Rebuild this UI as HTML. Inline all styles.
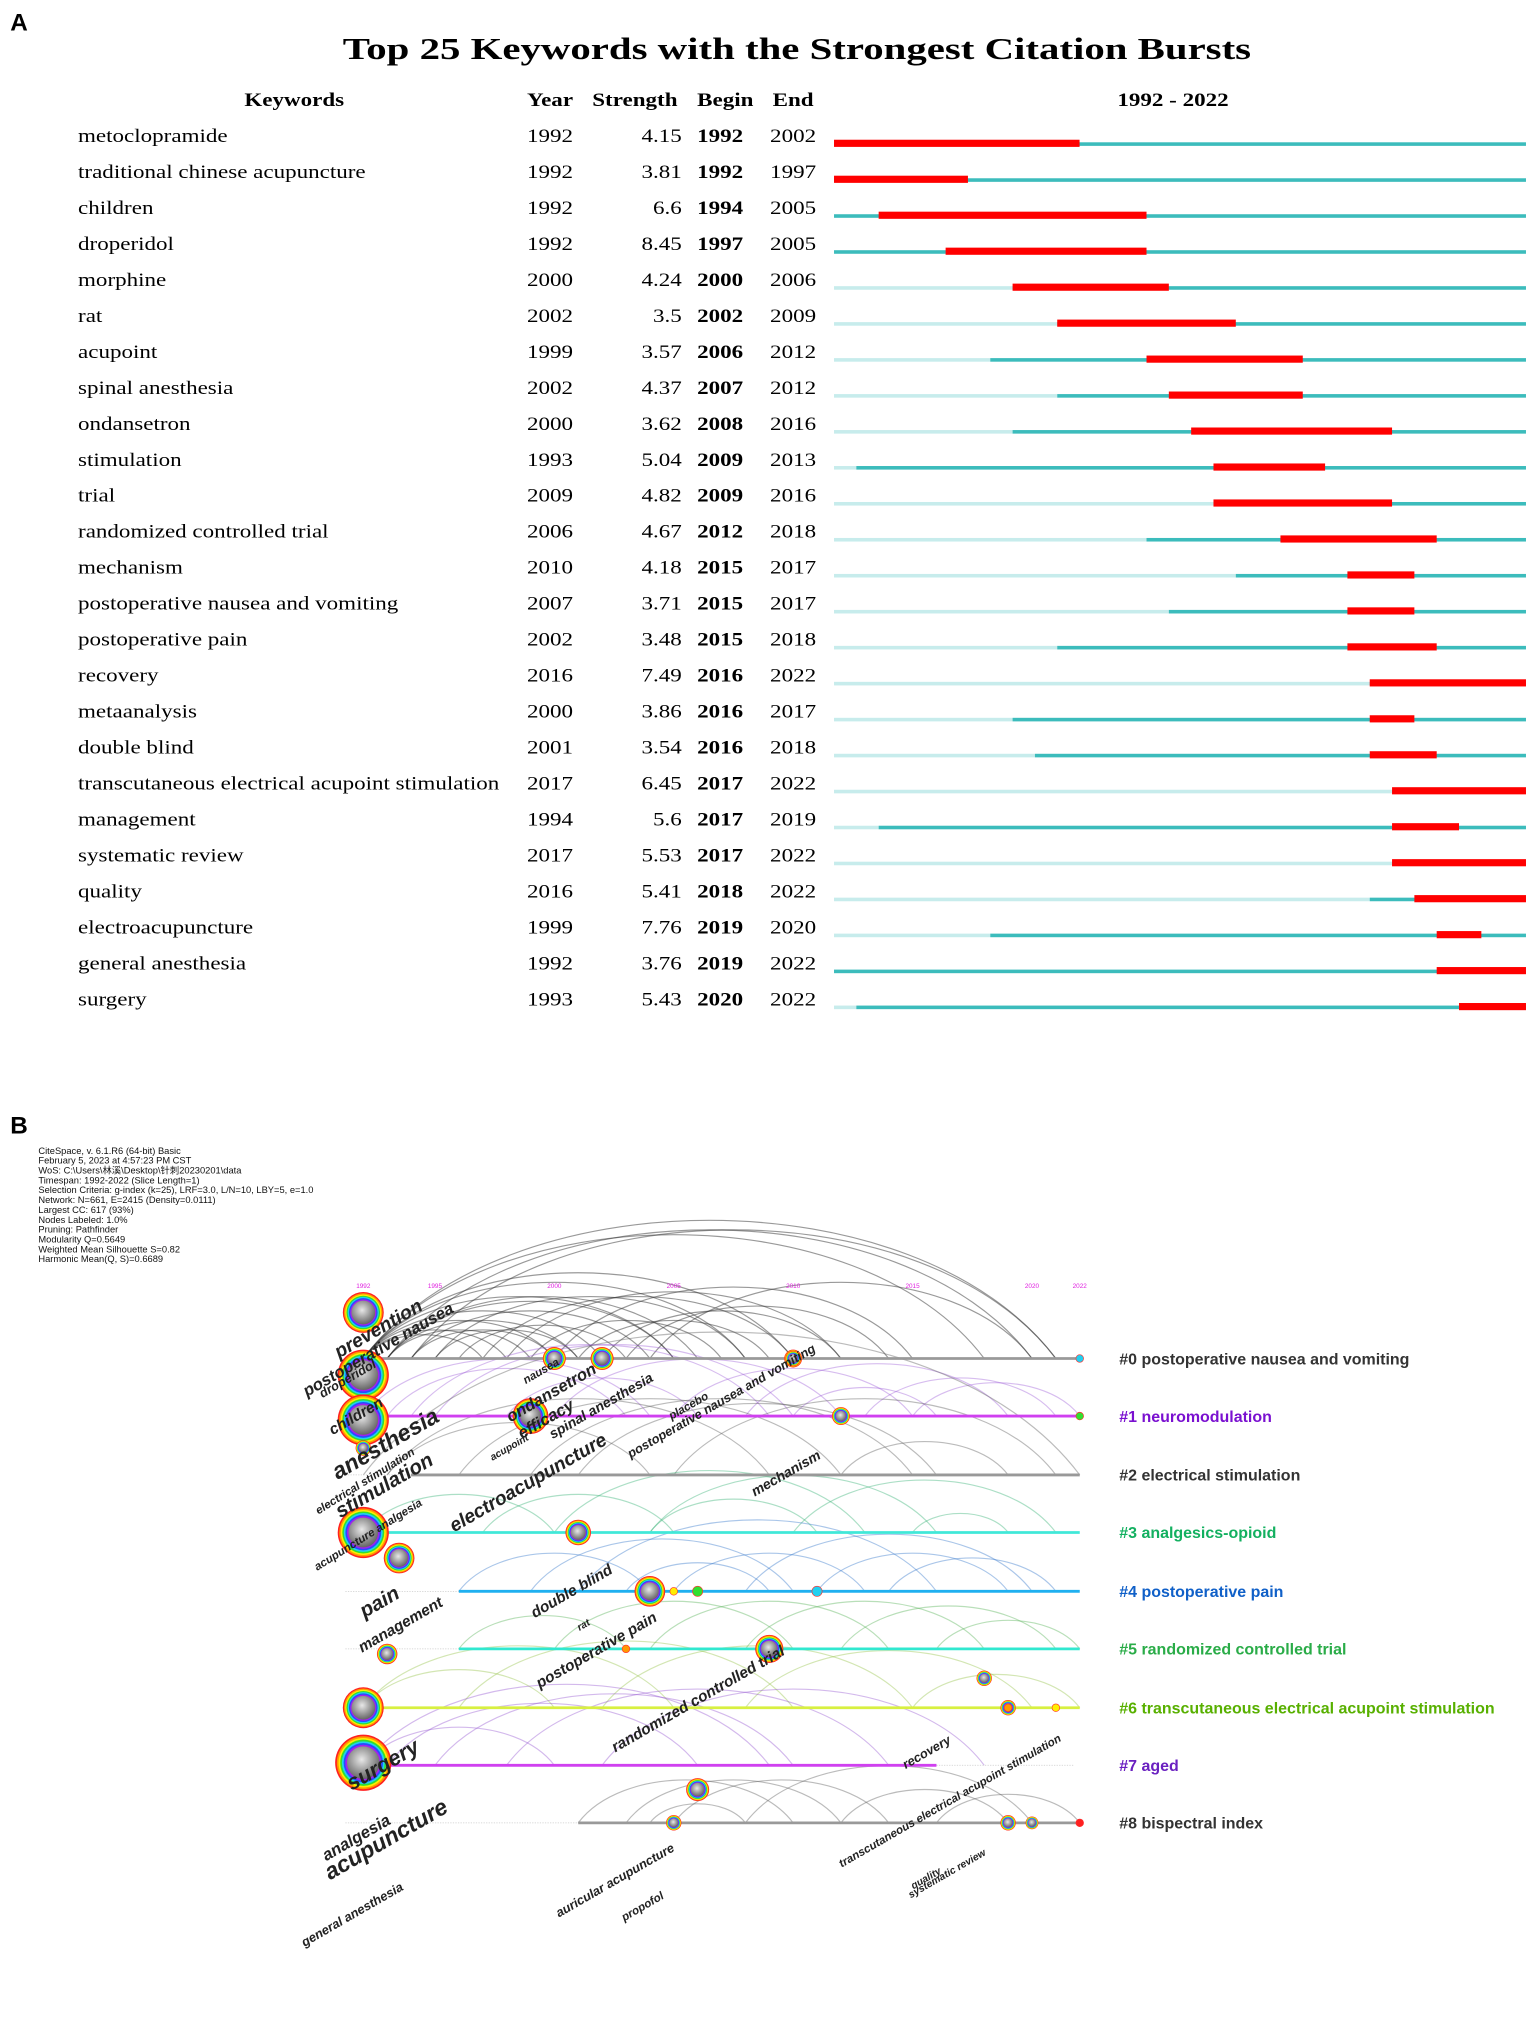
<!DOCTYPE html>
<html><head><meta charset="utf-8">
<style>
html,body{margin:0;padding:0;background:#fff;}
svg{display:block;}
.serif{font-family:"Liberation Serif","DejaVu Serif",serif;}
.sans{font-family:"Liberation Sans","Noto Sans CJK SC",sans-serif;}
</style></head>
<body>
<svg id="root" width="1535" height="2019" viewBox="0 0 1200 1578.3" xmlns="http://www.w3.org/2000/svg">
<text x="8" y="24" class="sans" font-size="19" font-weight="bold">A</text>
<g transform="translate(623,46) scale(1.33,1)"><text x="0" y="0" class="serif" font-size="24" font-weight="bold" text-anchor="middle">Top 25 Keywords with the Strongest Citation Bursts</text></g>
<g class="serif" font-size="15" font-weight="bold">
<g transform="translate(230,83) scale(1.2,1)"><text x="0" y="0" text-anchor="middle">Keywords</text></g>
<g transform="translate(412,83) scale(1.2,1)"><text x="0" y="0">Year</text></g>
<g transform="translate(463,83) scale(1.2,1)"><text x="0" y="0">Strength</text></g>
<g transform="translate(545,83) scale(1.2,1)"><text x="0" y="0">Begin</text></g>
<g transform="translate(604,83) scale(1.2,1)"><text x="0" y="0">End</text></g>
<g transform="translate(917,83) scale(1.2,1)"><text x="0" y="0" text-anchor="middle">1992 - 2022</text></g>
</g>
<g id="burstRows"></g>

<text x="8" y="886" class="sans" font-size="19" font-weight="bold">B</text>
<g class="sans" font-size="7.3" fill="#111">
<text x="30" y="902">CiteSpace, v. 6.1.R6 (64-bit) Basic</text>
<text x="30" y="909.7">February 5, 2023 at 4:57:23 PM CST</text>
<text x="30" y="917.4">WoS: C:\Users\林溪\Desktop\针刺20230201\data</text>
<text x="30" y="925.1">Timespan: 1992-2022 (Slice Length=1)</text>
<text x="30" y="932.8">Selection Criteria: g-index (k=25), LRF=3.0, L/N=10, LBY=5, e=1.0</text>
<text x="30" y="940.5">Network: N=661, E=2415 (Density=0.0111)</text>
<text x="30" y="948.2">Largest CC: 617 (93%)</text>
<text x="30" y="955.9">Nodes Labeled: 1.0%</text>
<text x="30" y="963.6">Pruning: Pathfinder</text>
<text x="30" y="971.3">Modularity Q=0.5649</text>
<text x="30" y="979">Weighted Mean Silhouette S=0.82</text>
<text x="30" y="986.7">Harmonic Mean(Q, S)=0.6689</text>
</g>
<defs>
<radialGradient id="core" cx="45%" cy="40%" r="60%"><stop offset="0" stop-color="#e8e8e8"/><stop offset="0.6" stop-color="#999"/><stop offset="1" stop-color="#666"/></radialGradient>
</defs>
<g id="arcs"></g>
<g id="lines"></g>
<g id="nodes"></g>
<g id="yearTicks" class="sans" font-size="5" fill="#e020e0"></g>
<g id="clusterLabels" class="sans" font-size="12.5" font-weight="bold"></g>
<g id="nodeLabels" class="sans" font-weight="bold" font-style="italic" fill="#222"></g>
</svg>
<script>
const NS="http://www.w3.org/2000/svg";
const keywords=["metoclopramide","traditional chinese acupuncture","children","droperidol","morphine","rat","acupoint","spinal anesthesia","ondansetron","stimulation","trial","randomized controlled trial","mechanism","postoperative nausea and vomiting","postoperative pain","recovery","metaanalysis","double blind","transcutaneous electrical acupoint stimulation","management","systematic review","quality","electroacupuncture","general anesthesia","surgery"];
const years=[1992,1992,1992,1992,2000,2002,1999,2002,2000,1993,2009,2006,2010,2007,2002,2016,2000,2001,2017,1994,2017,2016,1999,1992,1993];
const strengths=["4.15","3.81","6.6","8.45","4.24","3.5","3.57","4.37","3.62","5.04","4.82","4.67","4.18","3.71","3.48","7.49","3.86","3.54","6.45","5.6","5.53","5.41","7.76","3.76","5.43"];
const begins=[1992,1992,1994,1997,2000,2002,2006,2007,2008,2009,2009,2012,2015,2015,2015,2016,2016,2016,2017,2017,2017,2018,2019,2019,2020];
const ends=[2002,1997,2005,2005,2006,2009,2012,2012,2016,2013,2016,2018,2017,2017,2018,2022,2017,2018,2022,2019,2022,2022,2020,2022,2022];

function mk(tag,attrs,parent,txt){const e=document.createElementNS(NS,tag);for(const k in attrs)e.setAttribute(k,attrs[k]);if(txt!==undefined)e.textContent=txt;parent.appendChild(e);return e;}
function stext(parent,x,y,s,sx,extra){const g=mk('g',{transform:`translate(${x},${y}) scale(${sx},1)`},parent);const t=mk('text',Object.assign({x:0,y:0},extra||{}),g,s);return t;}
const bx0=652,bw=17.45,y0=106,dy=28.12;
const bX=y=>bx0+(y-1992)*bw;
const rows=document.getElementById('burstRows');
keywords.forEach((k,i)=>{
  const y=y0+i*dy;
  const g=mk('g',{class:'serif','font-size':'15'},rows);
  
  
  let t=stext(g,61,y+5,k,1.2);
  t=stext(g,412,y+5,years[i],1.2);
  t=stext(g,533,y+5,strengths[i],1.2,{'text-anchor':'end'});
  t=stext(g,545,y+5,begins[i],1.2,{'font-weight':'bold'});
  t=stext(g,602,y+5,ends[i],1.2);
  const by=y+5;
  let r=mk('rect',{x:bx0,y:by+0.2,width:bX(years[i])-bx0,height:2.8,fill:'#c7ecec'},g);
  r=mk('rect',{x:bX(years[i]),y:by+0.2,width:bX(2023)-bX(years[i]),height:2.8,fill:'#3cbcbc'},g);
  r=mk('rect',{x:bX(begins[i]),y:by-1.8,width:bX(ends[i]+1)-bX(begins[i]),height:5.6,fill:'#ff0000'},g);
});

// Part B timeline
const tx=y=>284+(y-1992)*18.67;
const clusterNames=["#0 postoperative nausea and vomiting","#1 neuromodulation","#2 electrical stimulation","#3 analgesics-opioid","#4 postoperative pain","#5 randomized controlled trial","#6 transcutaneous electrical acupoint stimulation","#7 aged","#8 bispectral index"];
const clusterY=[1062,1107,1153,1198,1244,1289,1335,1380,1425];
const clusterStart=[1992,1992,1994,1992,1996,1996,1992,1992,2001];
const clusterEnd=[2022,2022,2022,2022,2022,2022,2022,2016,2022];
const labelColors=["#333","#7a10d0","#333","#13b060","#1060c8","#2aac48","#58b000","#6a20c0","#333"];
const lineColors=["#999","#d040f0","#999","#40e8d8","#20b0f0","#30e8d0","#d8f040","#d040f0","#999"];
const arcColors=["#333","#9a5ad8","#555","#30b070","#2a70c8","#50b050","#90c040","#9050d0","#555"];
const yearLabels=[1992,1995,2000,2005,2010,2015,2020,2022];

const arcCluster=[0,0,0,0,0,0,0,0,0,0,0,0,0,0,0,0,0,0,0,0,0,0,0,0,0,0,0,0,1,1,1,1,1,1,1,1,1,1,1,2,2,2,2,2,2,2,2,3,3,3,3,3,3,3,4,4,4,4,4,4,4,4,5,5,5,5,5,5,6,6,6,6,6,6,7,7,7,7,7,7,8,8,8,8,8,8,8];
const arcFrom=[1992,1992,1992,1993,1993,1992,1994,1995,1996,1998,1992,1993,1997,1999,2000,2002,1994,2004,2003,1992,1992,1992,1993,1993,1994,1992,1995,2001,1993,1995,2000,2005,2008,2010,2013,2015,1998,1992,1994,1992,1993,1996,2001,2005,2012,1999,1993,1992,1997,2000,2004,2010,2015,2004,1996,1999,2001,2005,2008,2011,2014,2003,1996,2000,2004,2008,2012,2016,1992,1996,2002,2008,2015,1992,1992,1993,1995,1998,2002,1992,2001,2003,2005,2008,2012,2016,2004];
const arcTo=[2021,2018,2010,2020,2005,2000,2004,2008,2003,2012,1998,2001,2010,2007,2015,2012,2021,2020,2014,2008,1997,2002,1999,2006,2000,2005,2001,2009,2003,2010,2012,2015,2019,2016,2021,2022,2006,2004,2009,2022,2009,2012,2016,2021,2019,2015,2004,2000,2005,2013,2016,2021,2019,2011,2004,2010,2016,2013,2020,2019,2021,2009,2003,2010,2014,2018,2021,2022,2000,2010,2015,2020,2022,2005,2000,2006,2010,2014,2018,2009,2010,2012,2014,2020,2019,2022,2008];
const arcsG=document.getElementById('arcs');
arcCluster.forEach((c,i)=>{
  const x1=tx(arcFrom[i]),x2=tx(arcTo[i]),y=clusterY[c];
  const h=(x2-x1)*0.2;
  const p=mk('path',{d:`M${x1},${y} C${x1+(x2-x1)*0.2},${y-h*1.33} ${x2-(x2-x1)*0.2},${y-h*1.33} ${x2},${y}`,fill:'none',stroke:arcColors[c],'stroke-width':0.9,'stroke-opacity':c===0?0.5:0.4},arcsG);
  
  
});
const linesG=document.getElementById('lines');
const labG=document.getElementById('clusterLabels');
clusterNames.forEach((n,i)=>{
  let l=mk('line',{x1:270,y1:clusterY[i],x2:840,y2:clusterY[i],stroke:'#ccc','stroke-width':0.6,'stroke-dasharray':'1 1'},linesG);
  
  l=mk('line',{x1:tx(clusterStart[i]),y1:clusterY[i],x2:tx(clusterEnd[i]),y2:clusterY[i],stroke:lineColors[i],'stroke-width':2.2},linesG);
  
  const t=mk('text',{x:875,y:clusterY[i]+4.5,fill:labelColors[i]},labG,n);
  
});
const ytG=document.getElementById('yearTicks');
yearLabels.forEach(y=>{const t=mk('text',{x:tx(y),y:1007,'text-anchor':'middle'},ytG,y);});

const nodeYear=[1992,1992,1992,1992,1992,1993.5,1992,1992,1993,2000,2002,1999,2001,2004,2009,2012,2006,2005,2010,2010,2018,2019,2003,2005,2006,2011,2019,2020,2022,2019,2021,2022,2022];
const nodeCluster=[0,0,1,1,3,3,6,7,4,0,0,1,3,4,5,1,8,8,0,0,6,6,5,4,4,4,8,8,8,6,6,1,0];
const nodeOffset=[-36,13,3,25,0,20,0,-2,49,0,0,0,0,0,0,0,-26,0,0,0,-23,0,0,0,0,0,0,0,0,0,0,0,0];
const nodeSize=[16,20,20,6,20,12,16,22,8,9,9,14,10,12,11,7,9,6,7,6,6,6,3,3,4,4,6,5,3,3,3,3,3];
const ringColors=["#ff2020","#ff9900","#ffee00","#30e030","#20d0f0","#2050ff","#a020f0"];
const nodesG=document.getElementById('nodes');
nodeYear.forEach((y,i)=>{
  const cx=tx(y),cy=clusterY[nodeCluster[i]]+nodeOffset[i],r=nodeSize[i];
  const g=mk('g',{},nodesG);
  
  
  if(r<=4){mk('circle',{cx,cy,r,fill:ringColors[i%7],stroke:'#ff3030','stroke-width':0.5},g);return;}
  ringColors.forEach((c,k)=>{mk('circle',{cx,cy,r:r*(1-k*0.06),fill:c},g);});
  mk('circle',{cx,cy,r:r*0.58,fill:'url(#core)'},g);
});

const nodeLabelText=["prevention","postoperative nausea","droperidol","children","anesthesia","electrical stimulation","stimulation","acupuncture analgesia","electroacupuncture","nausea","ondansetron","efficacy","acupoint","spinal anesthesia","placebo","postoperative nausea and vomiting","mechanism","pain","management","double blind","rat","postoperative pain","randomized controlled trial","recovery","transcutaneous electrical acupoint stimulation","surgery","analgesia","acupuncture","general anesthesia","auricular acupuncture","propofol","quality","systematic review"];
const labelX=[265,240,252,260,264,249,266,248,355,411,399,408,385,432,525,493,590,285,283,418,453,422,481,708,658,275,255,258,238,437,488,714,712];
const labelY=[1062,1092,1093,1122,1157,1184,1187,1228,1198,1082,1112,1125,1142,1125,1110,1140,1170,1265,1292,1265,1275,1320,1370,1383,1460,1400,1455,1470,1522,1499,1502,1477,1484];
const labelSize=[15,13,10,12,18,9,16,9,15,9,13,13,8,11,9,10,11,16,12,12,8,12,12,10,9,17,13,18,10,10,9,8,8];
const labelAngle=[-30,-30,-30,-30,-30,-32,-30,-32,-30,-30,-30,-30,-30,-30,-30,-30,-30,-30,-30,-30,-30,-30,-30,-30,-30,-30,-30,-30,-30,-30,-30,-30,-30];
const nlG=document.getElementById('nodeLabels');
nodeLabelText.forEach((s,i)=>{
  const t=mk('text',{x:labelX[i],y:labelY[i],'font-size':labelSize[i],transform:`rotate(${labelAngle[i]} ${labelX[i]} ${labelY[i]})`},nlG,s);
  
  
});
</script>
</body></html>
